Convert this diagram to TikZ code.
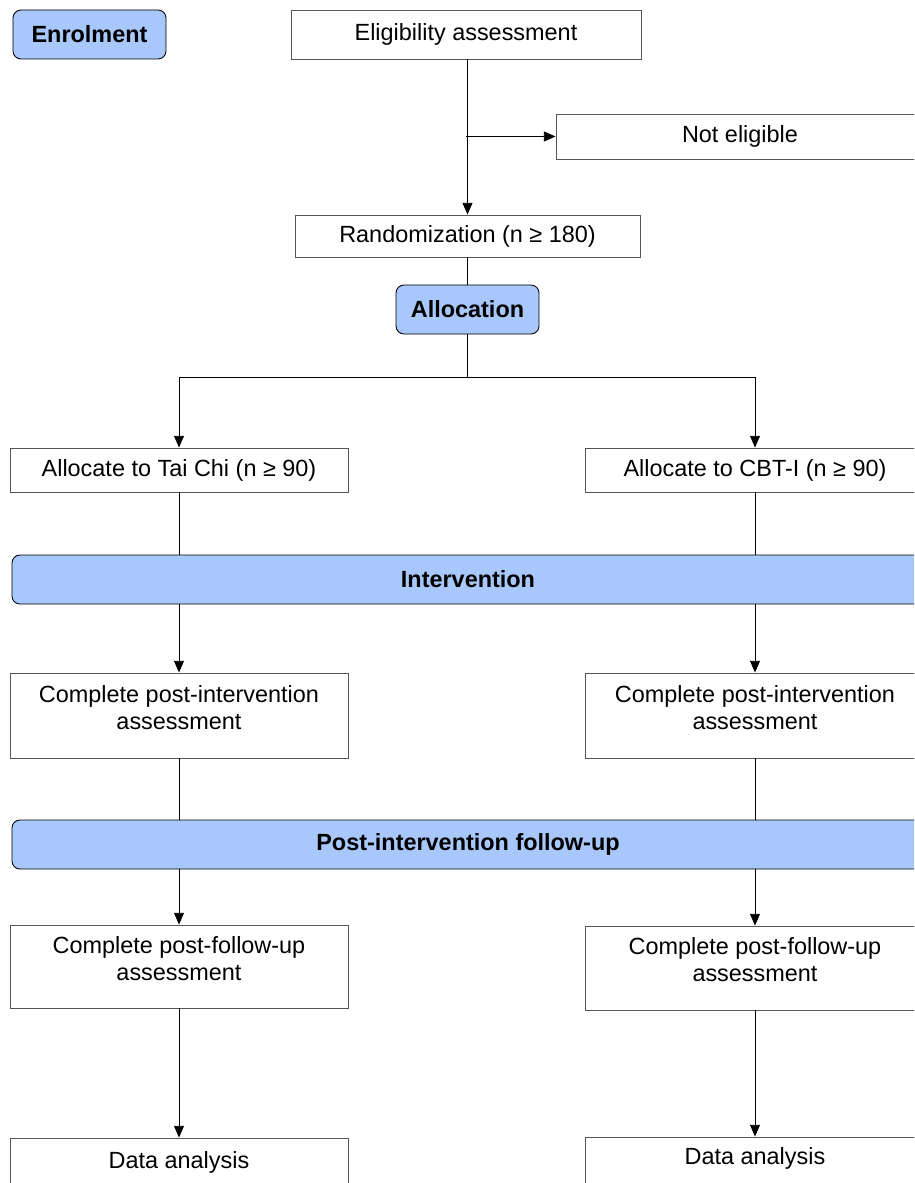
\documentclass[tikz,border=0pt]{standalone}
\usepackage{fontspec}
\setmainfont{Liberation Sans}
\usetikzlibrary{positioning,arrows.meta}
\definecolor{phaseblue}{HTML}{A8C7FA}
\definecolor{boxline}{HTML}{555555}

\begin{document}
\begin{tikzpicture}[x=0.03cm, y=-0.03cm, line width=0.75pt,
arr/.style={-{Triangle[length=10pt,width=8.5pt]}},
box/.style={rectangle, draw=boxline, fill=white, minimum width=10.14cm, minimum height=1.32cm, inner sep=0pt},
phase/.style={rectangle, rounded corners=0.24cm, draw=black, fill=phaseblue, font=\bfseries, minimum height=1.47cm, inner sep=0pt},
txt/.style={align=center, inner sep=0pt}]
\useasboundingbox (0,0) rectangle (914,1183);
\clip (0,0) rectangle (914,1183);
\fontsize{20}{23}\selectfont
  % enrolment
  \node[phase, minimum width=4.59cm] (enrol) at (89.5,34.5) {Enrolment};
  \node[box, minimum width=10.5cm, minimum height=1.47cm] (elig) at (466,34.5) {Eligibility assessment};
  \node[box, minimum width=11.04cm, minimum height=1.35cm] (notel) at (740,136.5) {Not eligible};
  \node[box, minimum width=10.35cm, minimum height=1.26cm] (rand) at (467.5,236) {Randomization (n ≥ 180)};
  % allocation
  \node[phase, minimum width=4.29cm] (alloc) at (467.5,309.5) {Allocation};
  \coordinate (split) at (467.5,377);
  \node[box] (taichi) at (179,470) {Allocate to Tai Chi (n ≥ 90)};
  \node[box, minimum width=10.2cm] (cbt) at (755,470) {Allocate to CBT-I (n ≥ 90)};
  % intervention
  \node[phase, minimum width=27.36cm] (interv) at (468,579.5) {Intervention};
  \node[box, minimum height=2.55cm] (postL) at (179,715.5) {};
  \node[box, minimum width=10.2cm, minimum height=2.55cm] (postR) at (755,715.5) {};
  \node[txt] (postLt) at (179,707.5) {Complete post-intervention\\assessment};
  \node[txt] (postRt) at (755,707.5) {Complete post-intervention\\assessment};
  % follow-up
  \node[phase, minimum width=27.36cm] (follow) at (468,844.5) {Post-intervention follow-up};
  \node[box, minimum height=2.49cm] (fuL) at (179,966.5) {};
  \node[box, minimum width=10.2cm, minimum height=2.52cm] (fuR) at (755,968) {};
  \node[txt] (fuLt) at (179,958.5) {Complete post-follow-up\\assessment};
  \node[txt] (fuRt) at (755,960) {Complete post-follow-up\\assessment};
  % analysis
  \node[box, minimum height=3cm] (dataL) at (179,1188) {};
  \node[box, minimum width=10.2cm, minimum height=3cm] (dataR) at (755,1187) {};
  \node[txt] (dataLt) at (179,1162) {Data analysis};
  \node[txt] (dataRt) at (755,1158) {Data analysis};

\draw[arr] (elig.south -| rand.north) -- (rand.north);
\draw[arr] (elig.south |- notel.west) -- (notel.west);
\draw (rand.south) -- (alloc.north);
\draw (alloc.south) -- (split);
\draw (taichi.north |- split) -- (cbt.north |- split);
\foreach \to in {taichi,cbt}
    \draw[arr] (\to.north |- split) -- (\to.north);
\foreach \from/\to/\bar in {taichi/postL/interv,cbt/postR/interv,postL/fuL/follow,postR/fuR/follow}
  {
    \draw (\from.south) -- (\from.south |- \bar.north);
    \draw[arr] (\to.north |- \bar.south) -- (\to.north);
  }
\foreach \from/\to in {fuL/dataL,fuR/dataR}
    \draw[arr] (\from.south) -- (\to.north);
\end{tikzpicture}
\end{document}
